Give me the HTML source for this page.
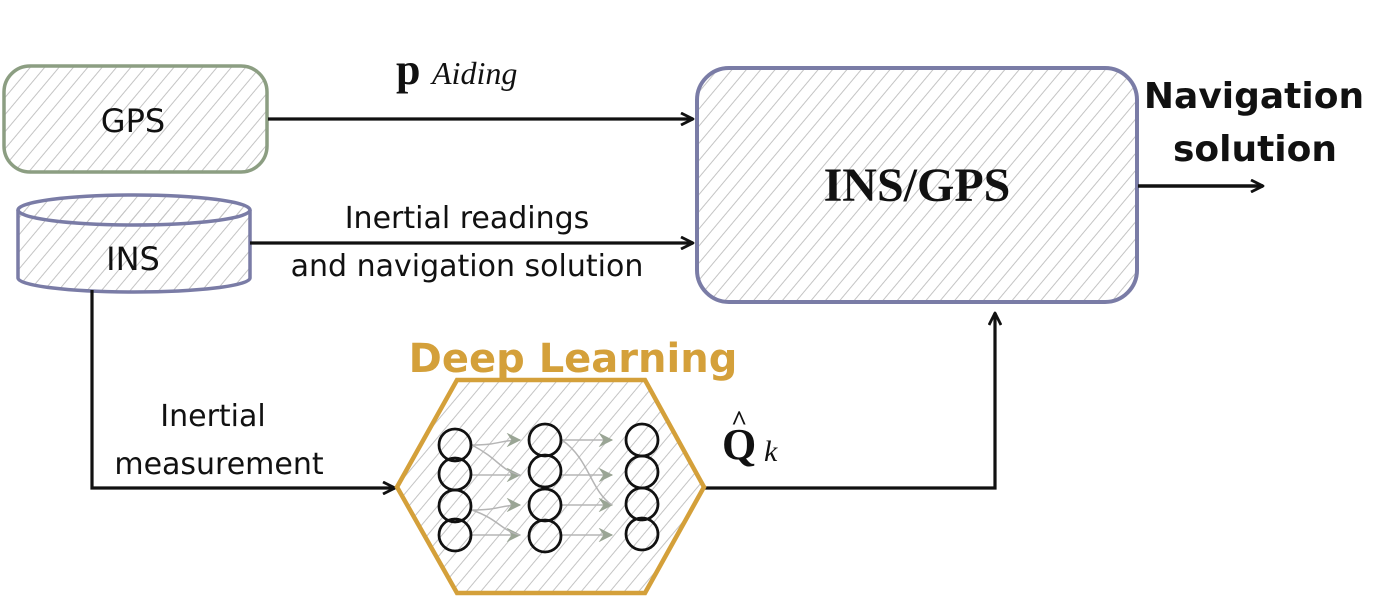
<!DOCTYPE html>
<html><head><meta charset="utf-8"><style>
html,body{margin:0;padding:0;background:#fff;width:1400px;height:597px;overflow:hidden}
svg{display:block}
.t{font-family:"DejaVu Sans","Liberation Sans",sans-serif;fill:#111}
.m{font-family:"Liberation Serif","DejaVu Serif",serif;fill:#111}
</style></head><body>
<svg width="1400" height="597" viewBox="0 0 1400 597" xmlns="http://www.w3.org/2000/svg">
<defs>
<pattern id="h" patternUnits="userSpaceOnUse" width="11" height="11" patternTransform="rotate(40)">
<line x1="0" y1="0" x2="0" y2="11" stroke="#c4c4c4" stroke-width="2"/>
</pattern>
<marker id="a" markerWidth="16" markerHeight="14" refX="14" refY="7" orient="auto" markerUnits="userSpaceOnUse">
<path d="M2,1 L14,7 L2,13" fill="none" stroke="#111" stroke-width="2.8" stroke-linejoin="round"/>
</marker>
<marker id="g" markerWidth="16" markerHeight="14" refX="14" refY="7" orient="auto" markerUnits="userSpaceOnUse">
<path d="M2,1 L14,7 L2,13 L6,7Z" fill="#9aa595" stroke="#9aa595" stroke-width="1"/>
</marker>
</defs>

<!-- GPS -->
<rect x="4" y="66" width="263" height="106" rx="26" fill="url(#h)" stroke="#8c9e82" stroke-width="3.5"/>
<text class="t" x="133" y="132" font-size="32" text-anchor="middle">GPS</text>

<!-- INS cylinder -->
<path d="M18,210 L18,278 A116,14 0 0 0 250,278 L250,210" fill="url(#h)" stroke="#7a7ca6" stroke-width="3.5"/>
<ellipse cx="134" cy="210" rx="116" ry="15" fill="url(#h)" stroke="#7a7ca6" stroke-width="3.5"/>
<text class="t" x="133" y="270" font-size="32" text-anchor="middle">INS</text>

<!-- INS/GPS -->
<rect x="697" y="68" width="440" height="234" rx="32" fill="url(#h)" stroke="#7a7ca6" stroke-width="4"/>
<text class="m" x="917" y="201" font-size="48" font-weight="bold" text-anchor="middle">INS/GPS</text>

<!-- arrows -->
<line x1="268" y1="119" x2="693" y2="119" stroke="#111" stroke-width="3.2" marker-end="url(#a)"/>
<line x1="250" y1="243" x2="693" y2="243" stroke="#111" stroke-width="3.2" marker-end="url(#a)"/>
<line x1="1138" y1="186" x2="1263" y2="186" stroke="#111" stroke-width="3.5" marker-end="url(#a)"/>
<polyline points="92,290 92,488 395,488" fill="none" stroke="#111" stroke-width="3.2" marker-end="url(#a)"/>
<polyline points="704,488 995,488 995,313" fill="none" stroke="#111" stroke-width="3.2" marker-end="url(#a)"/>

<!-- labels -->
<text class="m" x="396" y="84" font-size="44" font-weight="bold">p</text>
<text class="m" x="432" y="84" font-size="32" font-style="italic">Aiding</text>
<text class="t" x="467" y="228" font-size="30" text-anchor="middle">Inertial readings</text>
<text class="t" x="467" y="276" font-size="30" text-anchor="middle">and navigation solution</text>
<text class="t" x="1254" y="108" font-size="36" font-weight="bold" text-anchor="middle">Navigation</text>
<text class="t" x="1255" y="161" font-size="36" font-weight="bold" text-anchor="middle">solution</text>
<text class="t" x="213" y="426" font-size="30" text-anchor="middle">Inertial</text>
<text class="t" x="219" y="474" font-size="30" text-anchor="middle">measurement</text>
<text class="m" x="722" y="459" font-size="44" font-weight="bold">Q</text>
<text class="m" x="731" y="430" font-size="28" font-weight="bold">^</text>
<text class="m" x="764" y="461" font-size="30" font-style="italic">k</text>
<text class="t" x="573" y="372" font-size="40" font-weight="bold" text-anchor="middle" style="fill:#d4a03a">Deep Learning</text>

<!-- hexagon -->
<polygon points="397,487 457,380 645,380 704,487 645,593 457,593" fill="url(#h)" stroke="#d4a03a" stroke-width="4.5"/>

<!-- NN connections -->
<g fill="none" stroke="#b5b5b5" stroke-width="1.5">
<path d="M472,445 C500,445 500,440 520,440" marker-end="url(#g)"/>
<path d="M472,475 C500,475 500,475 520,475" marker-end="url(#g)"/>
<path d="M472,510 C500,510 500,505 520,505" marker-end="url(#g)"/>
<path d="M472,535 C500,535 500,535 520,535" marker-end="url(#g)"/>
<path d="M472,445 C500,460 500,470 520,475"/>
<path d="M472,510 C500,520 500,530 520,535"/>
<path d="M562,440 C590,440 590,440 612,440" marker-end="url(#g)"/>
<path d="M562,475 C590,475 590,475 612,475" marker-end="url(#g)"/>
<path d="M562,505 C590,505 590,505 612,505" marker-end="url(#g)"/>
<path d="M562,535 C590,535 590,535 612,535" marker-end="url(#g)"/>
<path d="M562,440 C590,460 590,490 612,505"/>
</g>
<!-- nodes -->
<g fill="none" stroke="#111" stroke-width="2.8">
<circle cx="455" cy="445" r="16"/><circle cx="455" cy="474" r="16"/><circle cx="455" cy="506" r="16"/><circle cx="455" cy="535" r="16"/>
<circle cx="545" cy="440" r="16"/><circle cx="545" cy="471" r="16"/><circle cx="545" cy="505" r="16"/><circle cx="545" cy="536" r="16"/>
<circle cx="642" cy="440" r="16"/><circle cx="642" cy="472" r="16"/><circle cx="642" cy="504" r="16"/><circle cx="642" cy="534" r="16"/>
</g>
</svg>
</body></html>
